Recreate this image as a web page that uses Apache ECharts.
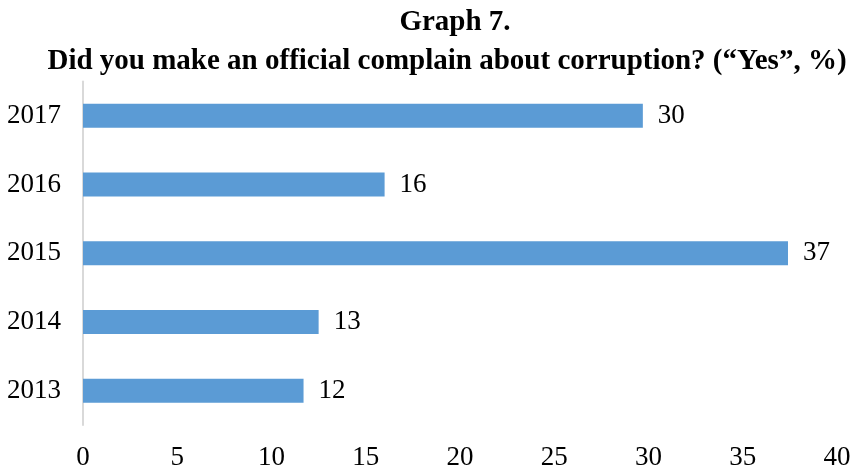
<!DOCTYPE html>
<html>
<head>
<meta charset="utf-8">
<script src="https://cdn.jsdelivr.net/npm/echarts@6/dist/echarts.min.js"></script>
<style>html,body{margin:0;padding:0;background:#fff;}#c{width:860px;height:471px;}</style>
</head>
<body>
<div id="c"></div>
<script>
var titleLine1 = 'Graph 7.';
var titleLine2 = 'Did you make an official complain about corruption? (\u201cYes\u201d, %)';
var years = ['2013', '2014', '2015', '2016', '2017'];
var values = [11.7, 12.5, 37.4, 16.0, 29.7];
var valueLabels = ['12', '13', '37', '16', '30'];
var xMin = 0, xMax = 40, xStep = 5;

var FONT = '"Liberation Serif", "Times New Roman", serif';
var chart = echarts.init(document.getElementById('c'), null, {renderer: 'canvas'});
chart.setOption({
  animation: false,
  backgroundColor: '#ffffff',
  title: [
    {text: titleLine1, left: 450, top: 3, textAlign: 'center',
     textStyle: {fontFamily: FONT, fontWeight: 'bold', fontSize: 29, color: '#000'}},
    {text: titleLine2, left: 442, top: 42, textAlign: 'center',
     textStyle: {fontFamily: FONT, fontWeight: 'bold', fontSize: 29, color: '#000'}}
  ],
  grid: {left: 83, right: 23, top: 81.5, bottom: 43.5, containLabel: false},
  xAxis: {
    type: 'value', min: xMin, max: xMax, interval: xStep,
    axisLine: {show: false}, axisTick: {show: false}, splitLine: {show: false},
    axisLabel: {fontFamily: FONT, fontSize: 27, color: '#000', margin: 19}
  },
  yAxis: {
    type: 'category', data: years,
    axisLine: {show: true, lineStyle: {color: '#d9d9d9', width: 2}},
    axisTick: {show: false},
    axisLabel: {fontFamily: FONT, fontSize: 27, color: '#000', margin: 22}
  },
  series: [{
    type: 'bar', data: values, barWidth: 24,
    itemStyle: {color: '#5B9BD5'},
    label: {show: true, position: 'right', distance: 15,
      fontFamily: FONT, fontSize: 27, color: '#000',
      formatter: function (p) { return valueLabels[p.dataIndex]; }}
  }]
});
</script>
</body>
</html>
